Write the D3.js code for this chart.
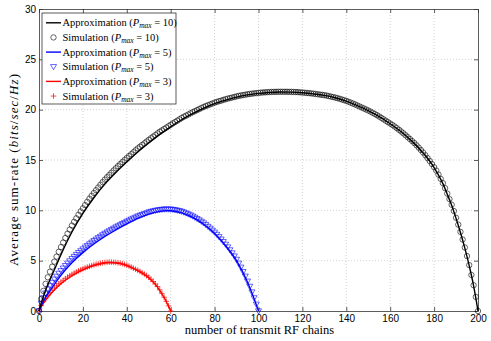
<!DOCTYPE html>
<html>
<head>
<meta charset="utf-8">
<script src="https://cdn.jsdelivr.net/npm/d3@7"></script>
<style>
  body { margin: 0; background: #fff; }
  .tick text { font-family: "Liberation Sans", Arial, sans-serif; font-size: 10px; fill: #000; }
  .serif { font-family: "Liberation Serif", "DejaVu Serif", serif; fill: #000; }
</style>
</head>
<body>
<div class="chart"></div>
<script>
// Approximation curves (N, rate)
var approx10N = [0,1,2,3,5,7,10,15,20,25,30,35,40,45,50,55,60,65,70,75,80,85,90,95,100,105,110,115,120,125,130,135,140,145,150,155,160,165,170,175,180,182,184,186,188,190,192,194,196,198,200];
var approx10 = [0,0.8,1.45,2.05,3.1,4.1,5.6,7.85,9.7,11.25,12.6,13.75,14.8,15.8,16.7,17.55,18.3,19.0,19.6,20.15,20.6,20.95,21.25,21.47,21.62,21.71,21.75,21.74,21.68,21.57,21.42,21.18,20.85,20.4,19.9,19.3,18.6,17.8,16.85,15.7,14.25,13.5,12.65,11.6,10.5,9.2,7.8,6.25,4.5,2.5,0];

var approx5N = [0,1,2,3,5,7,10,15,20,25,30,35,40,45,50,55,58,60,65,70,75,80,85,90,95,97,100];
var approx5 = [0,0.5,0.95,1.35,2.0,2.65,3.55,4.8,5.8,6.65,7.4,8.05,8.65,9.2,9.62,9.9,9.97,9.96,9.75,9.3,8.62,7.7,6.5,5.0,2.85,1.79,0];

var approx3N = [0,1,2,3,5,7,10,15,20,25,30,32,35,40,45,50,53,55,57,58,59,60];
var approx3 = [0,0.4,0.75,1.07,1.62,2.08,2.7,3.5,4.08,4.5,4.76,4.8,4.77,4.5,4.0,3.3,2.64,2.05,1.32,0.92,0.48,0];

// Simulation points, one per RF chain count starting at N = 0
var sim10 = [0,1.2,2.0,2.7,3.35,3.9,4.4,4.9,5.4,5.88,6.35,
  6.8,7.25,7.68,8.09,8.49,8.86,9.21,9.56,9.89,10.2,
  10.52,10.85,11.16,11.45,11.73,12.0,12.27,12.54,12.8,13.05,
  13.29,13.51,13.74,13.96,14.18,14.39,14.6,14.8,15.0,15.2,
  15.39,15.58,15.77,15.96,16.15,16.32,16.49,16.66,16.83,17.0,
  17.16,17.32,17.48,17.64,17.8,17.94,18.08,18.22,18.36,18.5,
  18.64,18.77,18.91,19.04,19.18,19.3,19.41,19.52,19.64,19.75,
  19.85,19.96,20.06,20.17,20.27,20.36,20.44,20.53,20.61,20.7,
  20.77,20.84,20.9,20.97,21.04,21.1,21.15,21.21,21.26,21.32,
  21.37,21.41,21.45,21.49,21.53,21.56,21.59,21.62,21.64,21.67,
  21.69,21.71,21.72,21.74,21.75,21.76,21.77,21.77,21.78,21.78,
  21.78,21.78,21.78,21.77,21.77,21.76,21.75,21.74,21.72,21.71,
  21.68,21.66,21.64,21.62,21.59,21.56,21.53,21.5,21.47,21.44,
  21.4,21.35,21.3,21.25,21.2,21.14,21.08,21.01,20.94,20.87,
  20.79,20.7,20.61,20.52,20.42,20.32,20.22,20.12,20.02,19.92,
  19.81,19.69,19.57,19.45,19.32,19.18,19.04,18.9,18.76,18.62,
  18.48,18.33,18.17,18.0,17.83,17.65,17.46,17.27,17.08,16.88,
  16.68,16.46,16.23,15.99,15.74,15.47,15.19,14.9,14.6,14.29,
  13.95,13.55,13.13,12.7,12.2,11.66,11.12,10.56,9.93,9.26,
  8.58,7.86,7.1,6.31,5.46,4.56,3.58,2.56,1.4,0];

var sim5 = [0,0.75,1.3,1.77,2.17,2.5,2.83,3.15,3.44,3.73,4.0,
  4.25,4.5,4.74,4.97,5.2,5.4,5.6,5.79,5.97,6.15,
  6.33,6.49,6.66,6.82,6.98,7.12,7.27,7.41,7.56,7.7,
  7.83,7.95,8.08,8.2,8.33,8.44,8.55,8.67,8.78,8.9,
  9.0,9.11,9.21,9.31,9.42,9.5,9.58,9.65,9.73,9.82,
  9.88,9.93,9.98,10.02,10.06,10.09,10.11,10.11,10.11,10.11,
  10.08,10.05,10.0,9.95,9.89,9.81,9.72,9.63,9.53,9.42,
  9.3,9.17,9.04,8.9,8.74,8.57,8.39,8.21,8.02,7.82,
  7.6,7.37,7.13,6.88,6.62,6.35,6.06,5.76,5.45,5.12,
  4.74,4.34,3.9,3.45,2.95,2.44,1.88,1.3,0.67,0];

var sim3 = [0,0.55,0.95,1.28,1.57,1.83,2.07,2.29,2.5,2.7,2.88,
  3.05,3.21,3.37,3.51,3.64,3.76,3.88,3.99,4.09,4.19,
  4.28,4.36,4.44,4.51,4.58,4.64,4.69,4.74,4.78,4.82,
  4.84,4.85,4.85,4.84,4.82,4.79,4.75,4.7,4.63,4.55,
  4.46,4.36,4.25,4.15,4.05,3.93,3.8,3.67,3.52,3.35,
  3.15,2.93,2.69,2.43,2.1,1.75,1.37,0.96,0.51,0];

var xTicks = [0,20,40,60,80,100,120,140,160,180,200];
var yTicks = [0,5,10,15,20,25,30];

var legendLabels = [
  {name: "Approximation (", p: "10", kind: "line", color: "#000"},
  {name: "Simulation (", p: "10", kind: "circle", color: "#000"},
  {name: "Approximation (", p: "5", kind: "line", color: "#0000ff"},
  {name: "Simulation (", p: "5", kind: "tri", color: "#0000ff"},
  {name: "Approximation (", p: "3", kind: "line", color: "#ff0000"},
  {name: "Simulation (", p: "3", kind: "plus", color: "#ff0000"}
];

// SVG area
var svgWidth = 491;
var svgHeight = 341;
var margin = {top: 9, right: 13, bottom: 30, left: 39};
var width = svgWidth - margin.left - margin.right;
var height = svgHeight - margin.top - margin.bottom;

var svg = d3.select(".chart")
  .append("svg")
  .attr("width", svgWidth)
  .attr("height", svgHeight);

var chartGroup = svg.append("g")
  .attr("transform", `translate(${margin.left}, ${margin.top})`);

// Scales
var xScale = d3.scaleLinear().domain([0, 200]).range([0, width]);
var yScale = d3.scaleLinear().domain([0, 30]).range([height, 0]);

// Grid (dotted)
var grid = chartGroup.append("g");
grid.selectAll(".gx").data(xTicks.slice(1, -1)).enter().append("line")
  .attr("x1", d => xScale(d)).attr("x2", d => xScale(d))
  .attr("y1", 0).attr("y2", height);
grid.selectAll(".gy").data(yTicks.slice(1, -1)).enter().append("line")
  .attr("y1", d => yScale(d)).attr("y2", d => yScale(d))
  .attr("x1", 0).attr("x2", width);
grid.selectAll("line")
  .attr("stroke", "#b4b4b4")
  .attr("stroke-width", 0.6)
  .attr("stroke-dasharray", "1,2");

// Axes, ticks pointing inward on all four sides
var bottomAxis = d3.axisBottom(xScale).tickValues(xTicks).tickSizeInner(-4).tickSizeOuter(0).tickPadding(4);
var leftAxis = d3.axisLeft(yScale).tickValues(yTicks).tickSizeInner(-4).tickSizeOuter(0).tickPadding(3);
var topAxis = d3.axisTop(xScale).tickValues(xTicks).tickSizeInner(-4).tickSizeOuter(0).tickFormat("");
var rightAxis = d3.axisRight(yScale).tickValues(yTicks).tickSizeInner(-4).tickSizeOuter(0).tickFormat("");

chartGroup.append("g").attr("transform", `translate(0, ${height})`).call(bottomAxis);
chartGroup.append("g").call(leftAxis);
chartGroup.append("g").call(topAxis);
chartGroup.append("g").attr("transform", `translate(${width}, 0)`).call(rightAxis);
chartGroup.selectAll(".domain, .tick line").attr("stroke", "#333").attr("stroke-width", 0.8);
chartGroup.selectAll(".tick text").attr("fill", "#000");

// Lines
var line = d3.line()
  .x(d => xScale(d[0]))
  .y(d => yScale(d[1]))
  .curve(d3.curveMonotoneX);

function drawLine(ns, vals, color) {
  chartGroup.append("path")
    .datum(ns.map((n, i) => [n, vals[i]]))
    .attr("d", line)
    .attr("fill", "none")
    .attr("stroke", color)
    .attr("stroke-width", 1.4);
}

// Marker shapes
function circleMark(sel, color) {
  sel.append("circle").attr("r", 2.7)
    .attr("fill", "none").attr("stroke", color).attr("stroke-width", 0.6);
}
function triMark(sel, color) {
  sel.append("path").attr("d", "M-3,-2.2L3,-2.2L0,3Z")
    .attr("fill", "none").attr("stroke", color).attr("stroke-width", 0.6);
}
function plusMark(sel, color) {
  sel.append("path").attr("d", "M-2.8,0H2.8M0,-2.8V2.8")
    .attr("fill", "none").attr("stroke", color).attr("stroke-width", 0.7);
}

function drawSim(vals, shape, color) {
  var g = chartGroup.append("g").selectAll("g")
    .data(vals)
    .enter()
    .append("g")
    .attr("transform", (d, i) => `translate(${xScale(i)}, ${yScale(d)})`);
  shape(g, color);
}

drawSim(sim3, plusMark, "#ff0000");
drawSim(sim5, triMark, "#0000ff");
drawSim(sim10, circleMark, "#000");
drawLine(approx3N, approx3, "#ff0000");
drawLine(approx5N, approx5, "#0000ff");
drawLine(approx10N, approx10, "#000");

// Legend
var legend = chartGroup.append("g").attr("transform", "translate(3, 4)");
legend.append("rect")
  .attr("width", 134).attr("height", 91)
  .attr("fill", "#fff").attr("stroke", "#333").attr("stroke-width", 0.8);

legendLabels.forEach(function(d, i) {
  var row = legend.append("g").attr("transform", `translate(0, ${9.8 + i * 14.65})`);
  if (d.kind === "line") {
    row.append("line").attr("x1", 4).attr("x2", 19)
      .attr("stroke", d.color).attr("stroke-width", 1.4);
  } else {
    var m = row.append("g").attr("transform", "translate(11.5, 0)");
    if (d.kind === "circle") circleMark(m, d.color);
    if (d.kind === "tri") triMark(m, d.color);
    if (d.kind === "plus") plusMark(m, d.color);
  }
  var t = row.append("text").attr("class", "serif")
    .attr("x", 20.5).attr("y", 3.5).attr("font-size", "10.5px");
  t.append("tspan").text(d.name);
  t.append("tspan").attr("font-style", "italic").text("P");
  t.append("tspan").attr("font-style", "italic").attr("font-size", "7.5px").attr("dy", 2).text("max");
  t.append("tspan").attr("dy", -2).text(" = " + d.p + ")");
});

// Axis labels
svg.append("text")
  .attr("class", "serif")
  .attr("x", margin.left + width / 2 + 1)
  .attr("y", 334)
  .attr("text-anchor", "middle")
  .attr("font-size", "12.5px")
  .text("number of transmit RF chains");

var yTitle = svg.append("text")
  .attr("class", "serif")
  .attr("transform", "translate(18, 170) rotate(-90)")
  .attr("text-anchor", "middle")
  .attr("font-size", "13px")
  .attr("textLength", 192)
  .attr("lengthAdjust", "spacing");
yTitle.append("tspan").text("Average sum-rate (");
yTitle.append("tspan").attr("font-style", "italic").text("bits");
yTitle.append("tspan").text("/");
yTitle.append("tspan").attr("font-style", "italic").text("sec");
yTitle.append("tspan").text("/");
yTitle.append("tspan").attr("font-style", "italic").text("Hz");
yTitle.append("tspan").text(")");
</script>
</body>
</html>
